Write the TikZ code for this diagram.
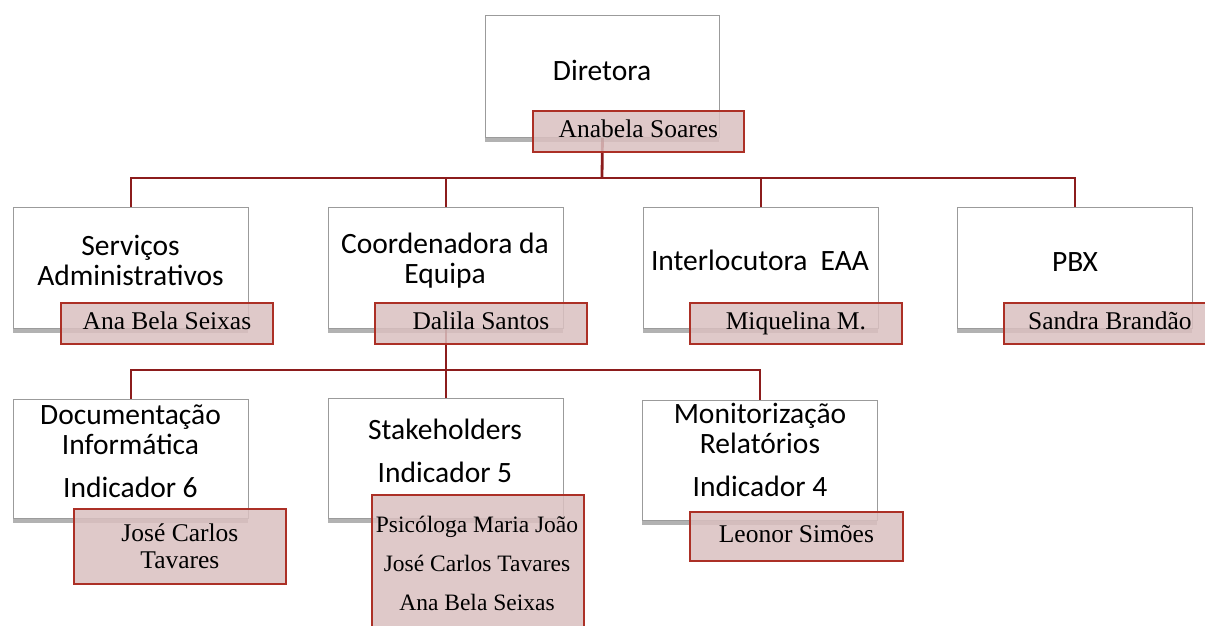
\documentclass[tikz,border=0pt]{standalone}
\usepackage{fontspec}
\setmainfont{Liberation Serif}
\newfontfamily\calib{Carlito}
\usetikzlibrary{shadows,backgrounds,calc}
\definecolor{linered}{RGB}{140,28,28}
\definecolor{nameborder}{RGB}{172,48,38}
\definecolor{namefill}{RGB}{218,192,192}
\definecolor{boxborder}{RGB}{155,155,155}
\tikzset{
  mainbox/.style={draw=boxborder, line width=0.9pt, fill=white, minimum width=235pt,
    minimum height=121pt, inner sep=0pt, anchor=north west,
    drop shadow={shadow xshift=-0.5pt, shadow yshift=-4.5pt, fill=black, opacity=0.3}},
  maintext/.style={font=\calib\fontsize{29.5}{30}\selectfont, align=center, inner sep=0pt},
  namebox/.style={draw=nameborder, line width=1.8pt, fill=namefill, fill opacity=0.85,
    text opacity=1, minimum width=212pt, minimum height=41pt, inner sep=0pt,
    anchor=north west, font=\fontsize{25.5}{27}\selectfont, align=center},
  oneline/.style={text height=17pt, text depth=5pt},
  nametext/.style={font=\fontsize{23.5}{39}\selectfont, align=center, inner sep=0pt},
  conn/.style={draw=linered, line width=2.8pt}
}
\begin{document}
\begin{tikzpicture}[x=1pt,y=-1pt]
\useasboundingbox (0,0) rectangle (1205,626);
% top
\node[mainbox, minimum width=234pt, minimum height=122pt] (dir) at (485,15) {};
\node[maintext] (dirT) at (602,70) {Diretora};
\node[namebox, oneline, minimum width=211pt] (dirN) at (532,110) {Anabela Soares};
% level 2
\node[mainbox] (s1) at (13,207) {};
\node[maintext] (s1T) at (130.5,260) {Serviços\\Administrativos};
\node[namebox, oneline] (s1N) at (60,302) {Ana Bela Seixas};
\node[mainbox] (s2) at (328,207) {};
\node[maintext] (s2T) at (445,261) {Coordenadora da\\Equipa};
\node[namebox, oneline] (s2N) at (374,302) {Dalila Santos};
\node[mainbox] (s3) at (643,207) {};
\node[maintext] (s3T) at (760,260) {Interlocutora\ \ EAA};
\node[namebox, oneline] (s3N) at (689,302) {Miquelina M.};
\node[mainbox] (s4) at (957,207) {};
\node[maintext] (s4T) at (1075,262) {PBX};
\node[namebox, oneline] (s4N) at (1003,302) {Sandra Brandão};
% level 3
\node[mainbox, minimum height=119pt] (d1) at (13,399) {};
\node[maintext] (d1T) at (130.5,451) {Documentação\\Informática\\[13pt]Indicador 6};
\node[namebox, minimum height=75pt] (d1N) at (73,508) {José Carlos\\Tavares};
\node[mainbox, minimum height=120pt] (d2) at (328,398) {};
\node[maintext] (d2T) at (445,451) {Stakeholders\\[13pt]Indicador 5};
\node[namebox, minimum height=150pt] (d2N) at (371,494) {};
\node[nametext] (d2T2) at (477,563) {Psicóloga Maria João\\José Carlos Tavares\\Ana Bela Seixas};
\node[mainbox, minimum height=120pt] (d3) at (642,400) {};
\node[maintext] (d3T) at (760,450) {Monitorização\\Relatórios\\[13pt]Indicador 4};
\node[namebox, oneline, minimum width=213pt, minimum height=49pt] (d3N) at (689,511) {Leonor Simões};
% connectors
\coordinate (bus1) at (602,178);
\coordinate (bus2) at (445,370);
\begin{scope}[on background layer]
\fill[white] (0,0) rectangle (1205,626);
\draw[conn] (dir.south) -- (bus1);
\draw[conn] (s1.north) |- (bus1) -| (s4.north);
\draw[conn] (s2.north) -- (s2.north |- bus1);
\draw[conn] (s3.north) -- (s3.north |- bus1);
\draw[conn] (s2.south) -- (d2.north);
\draw[conn] (d1.north) |- (bus2) -| (d3.north);
\end{scope}
\end{tikzpicture}
\end{document}
